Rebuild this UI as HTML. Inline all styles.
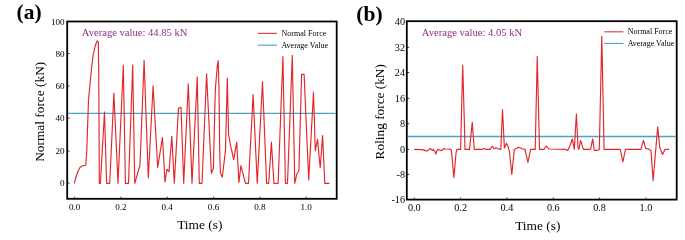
<!DOCTYPE html>
<html><head><meta charset="utf-8"><style>
html,body{margin:0;padding:0;background:#fff;width:685px;height:240px;overflow:hidden}
svg{display:block;will-change:transform;font-family:'Liberation Serif', serif}
</style></head><body>
<svg width="685" height="240" viewBox="0 0 685 240">
<rect x="67.2" y="21.5" width="269.5" height="177.3" fill="none" stroke="#000" stroke-width="1.8"/>
<text x="64.60000000000001" y="24.70" text-anchor="end" font-size="9.1">100</text>
<line x1="67.2" y1="53.50" x2="69.60000000000001" y2="53.50" stroke="#000" stroke-width="0.8"/>
<text x="64.60000000000001" y="56.50" text-anchor="end" font-size="9.1">80</text>
<line x1="67.2" y1="86.10" x2="69.60000000000001" y2="86.10" stroke="#000" stroke-width="0.8"/>
<text x="64.60000000000001" y="89.10" text-anchor="end" font-size="9.1">60</text>
<line x1="67.2" y1="118.10" x2="69.60000000000001" y2="118.10" stroke="#000" stroke-width="0.8"/>
<text x="64.60000000000001" y="121.10" text-anchor="end" font-size="9.1">40</text>
<line x1="67.2" y1="151.10" x2="69.60000000000001" y2="151.10" stroke="#000" stroke-width="0.8"/>
<text x="64.60000000000001" y="154.10" text-anchor="end" font-size="9.1">20</text>
<line x1="67.2" y1="183.10" x2="69.60000000000001" y2="183.10" stroke="#000" stroke-width="0.8"/>
<text x="64.60000000000001" y="186.10" text-anchor="end" font-size="9.1">0</text>
<line x1="74.60" y1="198.8" x2="74.60" y2="196.60000000000002" stroke="#000" stroke-width="0.7"/>
<text x="74.60" y="209.6" text-anchor="middle" font-size="9.1">0.0</text>
<line x1="120.92" y1="198.8" x2="120.92" y2="196.60000000000002" stroke="#000" stroke-width="0.7"/>
<text x="120.92" y="209.6" text-anchor="middle" font-size="9.1">0.2</text>
<line x1="167.24" y1="198.8" x2="167.24" y2="196.60000000000002" stroke="#000" stroke-width="0.7"/>
<text x="167.24" y="209.6" text-anchor="middle" font-size="9.1">0.4</text>
<line x1="213.56" y1="198.8" x2="213.56" y2="196.60000000000002" stroke="#000" stroke-width="0.7"/>
<text x="213.56" y="209.6" text-anchor="middle" font-size="9.1">0.6</text>
<line x1="259.88" y1="198.8" x2="259.88" y2="196.60000000000002" stroke="#000" stroke-width="0.7"/>
<text x="259.88" y="209.6" text-anchor="middle" font-size="9.1">0.8</text>
<line x1="306.20" y1="198.8" x2="306.20" y2="196.60000000000002" stroke="#000" stroke-width="0.7"/>
<text x="306.20" y="209.6" text-anchor="middle" font-size="9.1">1.0</text>
<text x="199.8" y="229.4" text-anchor="middle" font-size="13.4">Time (s)</text>
<text transform="translate(44.2,111.8) rotate(-90)" text-anchor="middle" font-size="13.35">Normal force (kN)</text>
<text x="16.5" y="18.5" font-size="21.5" font-weight="bold">(a)</text>
<text x="81.8" y="36.3" font-size="10.6" fill="#8c2f88">Average value: 44.85 kN</text>
<line x1="68.2" y1="113.4" x2="335.7" y2="113.4" stroke="#4aa2c8" stroke-width="1.4"/>
<polyline points="74.30,183.30 76.00,177.00 78.00,171.00 80.00,167.50 82.00,166.00 85.80,165.20 86.80,150.00 88.50,100.00 91.40,70.00 93.00,56.00 95.20,46.00 96.80,41.50 97.25,40.80 98.30,41.90 98.70,70.00 98.90,100.00 99.30,183.30 100.40,183.30 104.50,111.95 106.60,183.30 109.75,183.30 113.90,93.15 118.00,183.30 123.30,65.05 125.40,183.30 128.50,183.30 132.70,65.05 134.75,183.30 140.00,165.00 144.10,60.45 148.30,177.70 153.10,85.85 157.70,167.40 162.50,137.45 165.00,182.00 167.00,169.20 169.00,171.70 171.80,136.25 174.30,183.30 178.50,108.30 181.00,107.30 183.70,183.30 188.30,83.75 192.00,183.30 197.25,77.15 199.30,183.30 202.00,183.30 206.60,73.75 211.40,173.30 213.40,168.20 215.30,90.00 217.20,66.70 218.20,60.55 219.00,90.00 219.70,150.00 220.40,172.60 222.30,177.20 225.50,150.00 227.30,78.05 228.60,135.00 230.80,146.70 233.75,159.50 236.70,142.05 238.90,182.40 240.90,165.65 245.50,183.30 248.50,183.30 253.10,94.65 257.25,183.30 262.50,81.70 266.60,183.30 268.70,183.30 271.40,142.15 273.90,183.30 278.10,183.30 282.90,56.65 285.40,183.30 287.50,183.30 292.30,55.35 294.75,183.30 296.80,174.00 298.90,170.80 301.60,74.40 304.10,74.40 308.70,179.90 313.50,92.15 315.30,150.90 317.50,139.25 320.20,167.70 322.60,135.65 324.80,183.30 329.50,183.30" fill="none" stroke="#e4262a" stroke-width="1.15" stroke-linejoin="round"/>
<line x1="257.7" y1="33.4" x2="277" y2="33.4" stroke="#dc4652" stroke-width="1.2"/>
<line x1="257.7" y1="45.2" x2="277" y2="45.2" stroke="#4aa2c8" stroke-width="1.1"/>
<text x="281.6" y="36.3" font-size="8">Normal Force</text>
<text x="281.4" y="48" font-size="8">Average Value</text>
<rect x="406.8" y="21.2" width="269.90000000000003" height="178.4" fill="none" stroke="#000" stroke-width="1.8"/>
<text x="405.0" y="24.60" text-anchor="end" font-size="10.2">40</text>
<line x1="406.8" y1="47.30" x2="409.2" y2="47.30" stroke="#000" stroke-width="0.8"/>
<text x="405.0" y="50.70" text-anchor="end" font-size="10.2">32</text>
<line x1="406.8" y1="72.50" x2="409.2" y2="72.50" stroke="#000" stroke-width="0.8"/>
<text x="405.0" y="75.90" text-anchor="end" font-size="10.2">24</text>
<line x1="406.8" y1="98.40" x2="409.2" y2="98.40" stroke="#000" stroke-width="0.8"/>
<text x="405.0" y="101.80" text-anchor="end" font-size="10.2">16</text>
<line x1="406.8" y1="123.75" x2="409.2" y2="123.75" stroke="#000" stroke-width="0.8"/>
<text x="405.0" y="127.15" text-anchor="end" font-size="10.2">8</text>
<line x1="406.8" y1="149.30" x2="409.2" y2="149.30" stroke="#000" stroke-width="0.8"/>
<text x="405.0" y="152.70" text-anchor="end" font-size="10.2">0</text>
<line x1="406.8" y1="174.40" x2="409.2" y2="174.40" stroke="#000" stroke-width="0.8"/>
<text x="405.0" y="177.80" text-anchor="end" font-size="10.2">-8</text>
<text x="405.0" y="202.80" text-anchor="end" font-size="10.2">-16</text>
<line x1="414.30" y1="199.6" x2="414.30" y2="197.4" stroke="#000" stroke-width="0.7"/>
<text x="414.30" y="210.8" text-anchor="middle" font-size="10.2">0.0</text>
<line x1="460.62" y1="199.6" x2="460.62" y2="197.4" stroke="#000" stroke-width="0.7"/>
<text x="460.62" y="210.8" text-anchor="middle" font-size="10.2">0.2</text>
<line x1="506.94" y1="199.6" x2="506.94" y2="197.4" stroke="#000" stroke-width="0.7"/>
<text x="506.94" y="210.8" text-anchor="middle" font-size="10.2">0.4</text>
<line x1="553.26" y1="199.6" x2="553.26" y2="197.4" stroke="#000" stroke-width="0.7"/>
<text x="553.26" y="210.8" text-anchor="middle" font-size="10.2">0.6</text>
<line x1="599.58" y1="199.6" x2="599.58" y2="197.4" stroke="#000" stroke-width="0.7"/>
<text x="599.58" y="210.8" text-anchor="middle" font-size="10.2">0.8</text>
<line x1="645.90" y1="199.6" x2="645.90" y2="197.4" stroke="#000" stroke-width="0.7"/>
<text x="645.90" y="210.8" text-anchor="middle" font-size="10.2">1.0</text>
<text x="537.8" y="230" text-anchor="middle" font-size="13.4">Time (s)</text>
<text transform="translate(384.1,111.75) rotate(-90)" text-anchor="middle" font-size="13.3">Roling force (kN)</text>
<text x="356.3" y="21.3" font-size="21.5" font-weight="bold">(b)</text>
<text x="421.8" y="36.3" font-size="10.6" fill="#8c2f88">Average value: 4.05 kN</text>
<line x1="407.8" y1="136.5" x2="675.7" y2="136.5" stroke="#4aa2c8" stroke-width="1.4"/>
<polyline points="414.10,149.40 422.00,149.60 426.20,150.90 428.00,150.60 429.50,149.20 430.30,148.50 431.60,149.80 432.40,150.40 433.25,149.40 434.00,150.60 434.80,151.00 435.75,153.95 436.60,151.70 437.40,149.80 438.70,149.40 440.75,150.60 442.00,150.20 444.00,148.50 445.30,148.95 450.30,149.20 451.40,150.20 453.90,177.60 456.00,153.20 457.00,149.40 460.60,149.40 462.70,65.25 464.30,120.20 465.00,149.40 469.50,149.40 472.25,122.35 474.30,149.40 482.00,149.40 484.00,148.50 486.00,149.40 490.00,149.40 492.50,146.20 494.00,148.70 496.00,147.70 498.00,148.70 500.80,149.40 502.50,109.85 504.40,147.90 506.50,143.15 508.00,146.20 509.50,152.20 511.80,174.50 514.30,149.40 518.50,147.20 522.00,148.70 525.00,149.40 527.90,162.40 530.60,149.40 535.20,149.40 537.25,56.45 539.50,149.40 544.00,149.40 546.20,146.05 548.90,148.95 566.00,149.40 567.70,150.40 570.20,145.20 572.25,138.95 573.90,147.20 574.30,149.40 576.40,113.95 578.00,147.20 578.90,149.40 580.60,140.45 582.70,147.20 583.70,149.40 590.60,149.40 592.70,138.95 594.10,149.40 594.75,150.40 597.25,150.40 599.30,149.40 601.80,36.25 604.10,149.40 620.20,149.40 622.90,162.00 625.40,149.40 641.00,149.40 643.50,140.45 645.60,148.30 649.30,149.40 651.00,150.40 653.10,180.70 657.70,126.90 659.75,147.20 662.50,154.50 665.00,149.40 669.10,149.40" fill="none" stroke="#e4262a" stroke-width="1.15" stroke-linejoin="round"/>
<line x1="604.3" y1="31.8" x2="623.4" y2="31.8" stroke="#dc4652" stroke-width="1.2"/>
<line x1="604.3" y1="43.4" x2="623.4" y2="43.4" stroke="#4aa2c8" stroke-width="1.1"/>
<text x="627.7" y="34.2" font-size="8">Normal Force</text>
<text x="627.7" y="45.9" font-size="8">Average Value</text>
</svg>
</body></html>
